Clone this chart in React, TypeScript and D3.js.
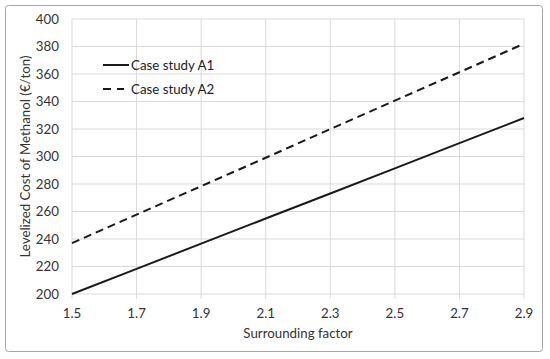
import React from "react";
import * as d3 from "d3";

const factors = [1.5, 1.7, 1.9, 2.1, 2.3, 2.5, 2.7, 2.9];
const caseA1 = [200, 218.3, 236.6, 254.9, 273.1, 291.4, 309.7, 328];
const caseA2 = [237, 257.7, 278.4, 299.1, 319.9, 340.6, 361.3, 382];
const yTicks = [200, 220, 240, 260, 280, 300, 320, 340, 360, 380, 400];
const seriesNames = ["Case study A1", "Case study A2"];

const W = 550;
const H = 359;
const font = "Lato, 'Open Sans', sans-serif";

const App = () => {
  const x = d3.scaleLinear().domain([1.5, 2.9]).range([72, 524]);
  const y = d3.scaleLinear().domain([200, 400]).range([294, 19]);

  const line = d3
    .line<number>()
    .x((_, i) => x(factors[i]))
    .y((d) => y(d));

  return (
    <svg
      width={W}
      height={H}
      style={{ position: "absolute", left: 0, top: 0, background: "#fff" }}
    >
      {/* outer frame */}
      <rect x={5.5} y={5.5} width={537} height={346} rx={3} fill="#fff" stroke="#a6a6a6" strokeWidth={1} />

      {/* grid */}
      {yTicks.map((t) => (
        <line key={"h" + t} x1={x(1.5)} x2={x(2.9)} y1={y(t)} y2={y(t)} stroke="#d9d9d9" strokeWidth={1} />
      ))}
      {factors.map((f) => (
        <line key={"v" + f} x1={x(f)} x2={x(f)} y1={y(400)} y2={y(200) + 5} stroke="#d9d9d9" strokeWidth={1} />
      ))}

      {/* y tick labels */}
      {yTicks.map((t) => (
        <text key={"yt" + t} x={59} y={y(t)} dy="0.35em" textAnchor="end" fontFamily={font} fontSize={13.3} fill="#333">
          {t}
        </text>
      ))}
      {/* x tick labels */}
      {factors.map((f) => (
        <text key={"xt" + f} x={x(f)} y={318} textAnchor="middle" fontFamily={font} fontSize={13.3} fill="#333">
          {f.toFixed(1)}
        </text>
      ))}

      {/* axis titles */}
      <text x={x(2.2)} y={338} textAnchor="middle" fontFamily={font} fontSize={13.3} fill="#333">
        Surrounding factor
      </text>
      <text
        transform={`translate(25,${(y(200) + y(400)) / 2}) rotate(-90)`}
        textAnchor="middle"
        dy="0.35em"
        fontFamily={font}
        fontSize={13.3}
        fill="#333"
      >
        Levelized Cost of Methanol (€/ton)
      </text>

      {/* series */}
      <path d={line(caseA1) || ""} fill="none" stroke="#1a1a1a" strokeWidth={2} />
      <path d={line(caseA2) || ""} fill="none" stroke="#1a1a1a" strokeWidth={2} strokeDasharray="8,5" />

      {/* legend */}
      <g fontFamily={font} fontSize={13.3} fill="#222">
        <line x1={103} x2={129} y1={65} y2={65} stroke="#1a1a1a" strokeWidth={2} />
        <text x={131} y={65} dy="0.35em">{seriesNames[0]}</text>
        <line x1={103} x2={124} y1={89} y2={89} stroke="#1a1a1a" strokeWidth={2} strokeDasharray="8,6" />
        <text x={131} y={89} dy="0.35em">{seriesNames[1]}</text>
      </g>
    </svg>
  );
};

export default App;
